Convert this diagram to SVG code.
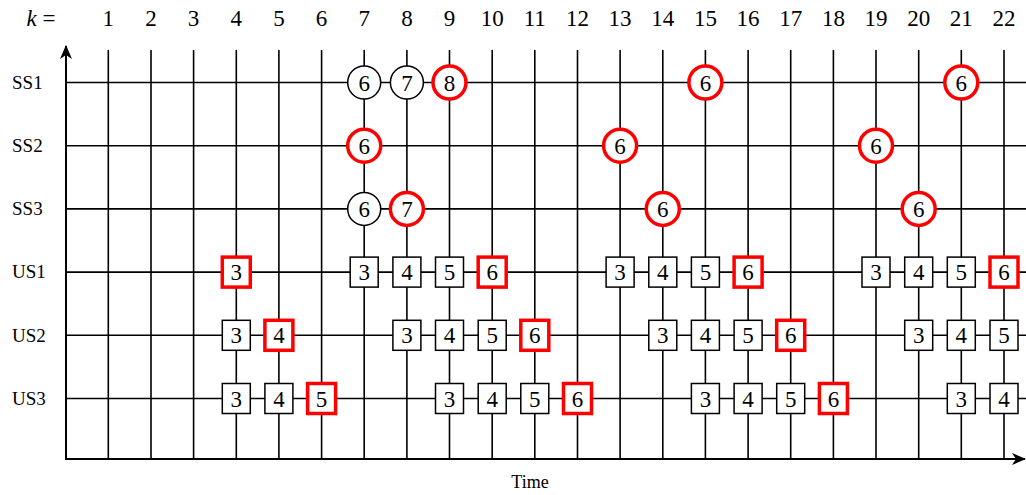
<svg xmlns="http://www.w3.org/2000/svg" width="1026" height="495" viewBox="0 0 1026 495">
<style>
.g{stroke:#000;stroke-width:1.6;fill:none}
.ax{stroke:#000;stroke-width:2;fill:none}
.t{font-family:"Liberation Serif","DejaVu Serif",serif;fill:#000}
.kl{font-size:23px;text-anchor:middle}
.rl{font-size:19px}
.nl{font-size:23px;text-anchor:middle}
.cb{fill:#fff;stroke:#000;stroke-width:1.5}
.cr{fill:#fff;stroke:#f00;stroke-width:3.5}
</style>
<defs>
<marker id="ar" markerWidth="16" markerHeight="14" refX="13" refY="7" orient="auto" markerUnits="userSpaceOnUse">
<path d="M0,1 L14,7 L0,13 L4,7 Z" fill="#000"/>
</marker>
</defs>
<rect width="1026" height="495" fill="#fff"/>
<g id="labels">
<text class="t kl" x="41" y="26" text-anchor="middle"><tspan font-style="italic">k</tspan> =</text>
<text class="t kl" x="108.3" y="26">1</text>
<text class="t kl" x="151" y="26">2</text>
<text class="t kl" x="193.6" y="26">3</text>
<text class="t kl" x="236.3" y="26">4</text>
<text class="t kl" x="278.9" y="26">5</text>
<text class="t kl" x="321.6" y="26">6</text>
<text class="t kl" x="364.2" y="26">7</text>
<text class="t kl" x="406.9" y="26">8</text>
<text class="t kl" x="449.5" y="26">9</text>
<text class="t kl" x="492.2" y="26">10</text>
<text class="t kl" x="534.8" y="26">11</text>
<text class="t kl" x="577.5" y="26">12</text>
<text class="t kl" x="620.1" y="26">13</text>
<text class="t kl" x="662.8" y="26">14</text>
<text class="t kl" x="705.4" y="26">15</text>
<text class="t kl" x="748.1" y="26">16</text>
<text class="t kl" x="790.7" y="26">17</text>
<text class="t kl" x="833.4" y="26">18</text>
<text class="t kl" x="876" y="26">19</text>
<text class="t kl" x="918.7" y="26">20</text>
<text class="t kl" x="961.3" y="26">21</text>
<text class="t kl" x="1004" y="26">22</text>
<text class="t rl" x="12" y="89">SS1</text>
<text class="t rl" x="12" y="152">SS2</text>
<text class="t rl" x="12" y="215">SS3</text>
<text class="t rl" x="12" y="278">US1</text>
<text class="t rl" x="12" y="342">US2</text>
<text class="t rl" x="12" y="405">US3</text>
<text class="t" x="530" y="488" font-size="18" text-anchor="middle">Time</text>
</g>
<g id="connectors">
<path class="g" d="M108.3,50V459M151,50V459M193.6,50V459M236.3,50V459M278.9,50V459M321.6,50V459M364.2,50V459M406.9,50V459M449.5,50V459M492.2,50V459M534.8,50V459M577.5,50V459M620.1,50V459M662.8,50V459M705.4,50V459M748.1,50V459M790.7,50V459M833.4,50V459M876,50V459M918.7,50V459M961.3,50V459M1004,50V459"/>
<path class="g" d="M66,82.5H1026M66,145.7H1026M66,208.9H1026M66,272.1H1026M66,335.3H1026M66,398.5H1026"/>
<path class="ax" d="M66,460V46" marker-end="url(#ar)"/>
<path class="ax" d="M65,459H1025" marker-end="url(#ar)"/>
</g>
<!-- SS1 -->
<g id="ss1-k7"><circle class="cb" cx="364.2" cy="82.5" r="16.5"/><text class="t nl" x="364.2" y="90.5">6</text></g>
<g id="ss1-k8"><circle class="cb" cx="406.9" cy="82.5" r="16.5"/><text class="t nl" x="406.9" y="90.5">7</text></g>
<g id="ss1-k9"><circle class="cr" cx="449.5" cy="82.5" r="16.5"/><text class="t nl" x="449.5" y="90.5">8</text></g>
<g id="ss1-k15"><circle class="cr" cx="705.4" cy="82.5" r="16.5"/><text class="t nl" x="705.4" y="90.5">6</text></g>
<g id="ss1-k21"><circle class="cr" cx="961.3" cy="82.5" r="16.5"/><text class="t nl" x="961.3" y="90.5">6</text></g>
<!-- SS2 -->
<g id="ss2-k7"><circle class="cr" cx="364.2" cy="145.7" r="16.5"/><text class="t nl" x="364.2" y="153.7">6</text></g>
<g id="ss2-k13"><circle class="cr" cx="620.1" cy="145.7" r="16.5"/><text class="t nl" x="620.1" y="153.7">6</text></g>
<g id="ss2-k19"><circle class="cr" cx="876" cy="145.7" r="16.5"/><text class="t nl" x="876" y="153.7">6</text></g>
<!-- SS3 -->
<g id="ss3-k7"><circle class="cb" cx="364.2" cy="208.9" r="16.5"/><text class="t nl" x="364.2" y="216.9">6</text></g>
<g id="ss3-k8"><circle class="cr" cx="406.9" cy="208.9" r="16.5"/><text class="t nl" x="406.9" y="216.9">7</text></g>
<g id="ss3-k14"><circle class="cr" cx="662.8" cy="208.9" r="16.5"/><text class="t nl" x="662.8" y="216.9">6</text></g>
<g id="ss3-k20"><circle class="cr" cx="918.7" cy="208.9" r="16.5"/><text class="t nl" x="918.7" y="216.9">6</text></g>
<!-- US1 -->
<g id="us1-k4"><rect class="cr" x="222.3" y="257.1" width="28" height="30"/><text class="t nl" x="236.3" y="280.1">3</text></g>
<g id="us1-k7"><rect class="cb" x="350.2" y="257.1" width="28" height="30"/><text class="t nl" x="364.2" y="280.1">3</text></g>
<g id="us1-k8"><rect class="cb" x="392.9" y="257.1" width="28" height="30"/><text class="t nl" x="406.9" y="280.1">4</text></g>
<g id="us1-k9"><rect class="cb" x="435.5" y="257.1" width="28" height="30"/><text class="t nl" x="449.5" y="280.1">5</text></g>
<g id="us1-k10"><rect class="cr" x="478.2" y="257.1" width="28" height="30"/><text class="t nl" x="492.2" y="280.1">6</text></g>
<g id="us1-k13"><rect class="cb" x="606.1" y="257.1" width="28" height="30"/><text class="t nl" x="620.1" y="280.1">3</text></g>
<g id="us1-k14"><rect class="cb" x="648.8" y="257.1" width="28" height="30"/><text class="t nl" x="662.8" y="280.1">4</text></g>
<g id="us1-k15"><rect class="cb" x="691.4" y="257.1" width="28" height="30"/><text class="t nl" x="705.4" y="280.1">5</text></g>
<g id="us1-k16"><rect class="cr" x="734.1" y="257.1" width="28" height="30"/><text class="t nl" x="748.1" y="280.1">6</text></g>
<g id="us1-k19"><rect class="cb" x="862" y="257.1" width="28" height="30"/><text class="t nl" x="876" y="280.1">3</text></g>
<g id="us1-k20"><rect class="cb" x="904.7" y="257.1" width="28" height="30"/><text class="t nl" x="918.7" y="280.1">4</text></g>
<g id="us1-k21"><rect class="cb" x="947.3" y="257.1" width="28" height="30"/><text class="t nl" x="961.3" y="280.1">5</text></g>
<g id="us1-k22"><rect class="cr" x="990" y="257.1" width="28" height="30"/><text class="t nl" x="1004" y="280.1">6</text></g>
<!-- US2 -->
<g id="us2-k4"><rect class="cb" x="222.3" y="320.3" width="28" height="30"/><text class="t nl" x="236.3" y="343.3">3</text></g>
<g id="us2-k5"><rect class="cr" x="264.9" y="320.3" width="28" height="30"/><text class="t nl" x="278.9" y="343.3">4</text></g>
<g id="us2-k8"><rect class="cb" x="392.9" y="320.3" width="28" height="30"/><text class="t nl" x="406.9" y="343.3">3</text></g>
<g id="us2-k9"><rect class="cb" x="435.5" y="320.3" width="28" height="30"/><text class="t nl" x="449.5" y="343.3">4</text></g>
<g id="us2-k10"><rect class="cb" x="478.2" y="320.3" width="28" height="30"/><text class="t nl" x="492.2" y="343.3">5</text></g>
<g id="us2-k11"><rect class="cr" x="520.8" y="320.3" width="28" height="30"/><text class="t nl" x="534.8" y="343.3">6</text></g>
<g id="us2-k14"><rect class="cb" x="648.8" y="320.3" width="28" height="30"/><text class="t nl" x="662.8" y="343.3">3</text></g>
<g id="us2-k15"><rect class="cb" x="691.4" y="320.3" width="28" height="30"/><text class="t nl" x="705.4" y="343.3">4</text></g>
<g id="us2-k16"><rect class="cb" x="734.1" y="320.3" width="28" height="30"/><text class="t nl" x="748.1" y="343.3">5</text></g>
<g id="us2-k17"><rect class="cr" x="776.7" y="320.3" width="28" height="30"/><text class="t nl" x="790.7" y="343.3">6</text></g>
<g id="us2-k20"><rect class="cb" x="904.7" y="320.3" width="28" height="30"/><text class="t nl" x="918.7" y="343.3">3</text></g>
<g id="us2-k21"><rect class="cb" x="947.3" y="320.3" width="28" height="30"/><text class="t nl" x="961.3" y="343.3">4</text></g>
<g id="us2-k22"><rect class="cb" x="990" y="320.3" width="28" height="30"/><text class="t nl" x="1004" y="343.3">5</text></g>
<!-- US3 -->
<g id="us3-k4"><rect class="cb" x="222.3" y="383.5" width="28" height="30"/><text class="t nl" x="236.3" y="406.5">3</text></g>
<g id="us3-k5"><rect class="cb" x="264.9" y="383.5" width="28" height="30"/><text class="t nl" x="278.9" y="406.5">4</text></g>
<g id="us3-k6"><rect class="cr" x="307.6" y="383.5" width="28" height="30"/><text class="t nl" x="321.6" y="406.5">5</text></g>
<g id="us3-k9"><rect class="cb" x="435.5" y="383.5" width="28" height="30"/><text class="t nl" x="449.5" y="406.5">3</text></g>
<g id="us3-k10"><rect class="cb" x="478.2" y="383.5" width="28" height="30"/><text class="t nl" x="492.2" y="406.5">4</text></g>
<g id="us3-k11"><rect class="cb" x="520.8" y="383.5" width="28" height="30"/><text class="t nl" x="534.8" y="406.5">5</text></g>
<g id="us3-k12"><rect class="cr" x="563.5" y="383.5" width="28" height="30"/><text class="t nl" x="577.5" y="406.5">6</text></g>
<g id="us3-k15"><rect class="cb" x="691.4" y="383.5" width="28" height="30"/><text class="t nl" x="705.4" y="406.5">3</text></g>
<g id="us3-k16"><rect class="cb" x="734.1" y="383.5" width="28" height="30"/><text class="t nl" x="748.1" y="406.5">4</text></g>
<g id="us3-k17"><rect class="cb" x="776.7" y="383.5" width="28" height="30"/><text class="t nl" x="790.7" y="406.5">5</text></g>
<g id="us3-k18"><rect class="cr" x="819.4" y="383.5" width="28" height="30"/><text class="t nl" x="833.4" y="406.5">6</text></g>
<g id="us3-k21"><rect class="cb" x="947.3" y="383.5" width="28" height="30"/><text class="t nl" x="961.3" y="406.5">3</text></g>
<g id="us3-k22"><rect class="cb" x="990" y="383.5" width="28" height="30"/><text class="t nl" x="1004" y="406.5">4</text></g>
</svg>
